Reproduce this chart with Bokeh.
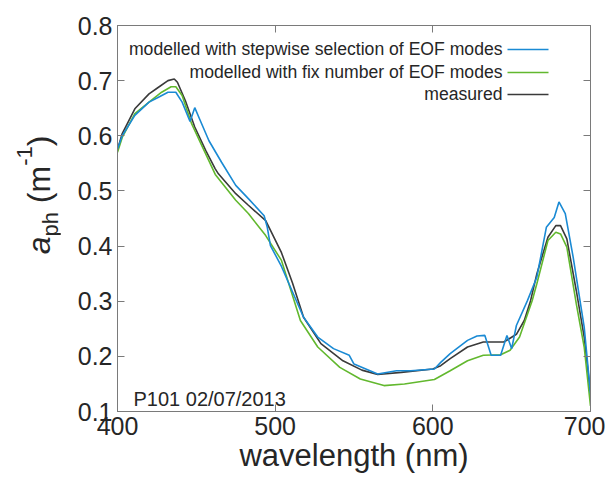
from bokeh.plotting import figure
from bokeh.models import Range1d, LinearAxis, Label, FixedTicker, Div
from bokeh.layouts import row
from bokeh.embed import file_html
from bokeh.resources import INLINE

# ---- data ----
wl_measured = [400, 403, 411, 420, 426, 432, 436, 438, 443, 449, 456, 462, 464, 475, 483, 494,
               504, 511, 518, 529, 543, 555, 565, 580, 600, 605, 611, 622, 632, 645, 653, 658,
               662, 666, 673, 678, 681, 685, 691, 696, 700]
a_measured = [0.575, 0.604, 0.649, 0.676, 0.688, 0.700, 0.703, 0.697, 0.664, 0.616, 0.573, 0.540,
              0.531, 0.495, 0.474, 0.446, 0.388, 0.333, 0.271, 0.223, 0.192, 0.175, 0.167, 0.171,
              0.177, 0.183, 0.196, 0.217, 0.226, 0.226, 0.240, 0.265, 0.301, 0.350, 0.416, 0.437,
              0.437, 0.413, 0.319, 0.235, 0.133]

wl_fix = [400, 403, 411, 420, 428, 434, 437, 441, 447, 454, 462, 475, 483, 494, 504, 516, 527,
          541, 554, 569, 582, 601, 611, 622, 632, 643, 649, 655, 663, 666, 673, 678, 681, 685,
          691, 696, 700]
a_fix = [0.570, 0.597, 0.640, 0.661, 0.679, 0.689, 0.689, 0.673, 0.622, 0.579, 0.530, 0.483,
         0.459, 0.419, 0.374, 0.265, 0.217, 0.180, 0.159, 0.147, 0.150, 0.158, 0.174, 0.192,
         0.202, 0.203, 0.211, 0.235, 0.301, 0.332, 0.410, 0.425, 0.422, 0.398, 0.295, 0.217,
         0.110]

wl_step = [400, 403, 411, 420, 426, 432, 437, 441, 446, 449, 452, 458, 466, 475, 483, 493, 495,
           497, 504, 518, 527, 537, 547, 550, 565, 577, 586, 601, 605, 611, 622, 628, 633, 637,
           643, 647, 650, 653, 660, 666, 672, 677, 680, 684, 689, 696, 700]
a_step = [0.576, 0.600, 0.637, 0.661, 0.670, 0.679, 0.679, 0.661, 0.626, 0.651, 0.631, 0.591,
          0.552, 0.510, 0.486, 0.455, 0.434, 0.401, 0.363, 0.271, 0.235, 0.214, 0.202, 0.186,
          0.168, 0.174, 0.174, 0.177, 0.189, 0.205, 0.229, 0.237, 0.238, 0.202, 0.202, 0.238,
          0.214, 0.256, 0.301, 0.344, 0.434, 0.452, 0.480, 0.459, 0.380, 0.253, 0.133]

x_ticks = [400, 500, 600, 700]
y_ticks = [0.1, 0.2, 0.3, 0.4, 0.5, 0.6, 0.7, 0.8]

series_names = ["modelled with stepwise selection of EOF modes",
                "modelled with fix number of EOF modes",
                "measured"]
annotation_text = "P101 02/07/2013"
x_label = "wavelength (nm)"

# ---- styles ----
FONT = "Liberation Sans"
C_STEP = "#1a8ad4"
C_FIX = "#62b82e"
C_MEAS = "#3a3a3a"
AXIS_C = "#7a7a7a"
TXT_C = "#262626"

x0, x1 = 400, 700
y0, y1 = 0.1, 0.8

LABEL_W = 60
FIG_H = 478

p = figure(width=605 - LABEL_W, height=FIG_H, output_backend="svg", toolbar_location=None,
           x_range=Range1d(x0, x1), y_range=Range1d(y0, y1),
           min_border_left=117 - LABEL_W, min_border_right=15, min_border_top=25,
           min_border_bottom=67)
p.background_fill_color = "white"
p.border_fill_color = "white"
p.grid.visible = False
p.outline_line_color = AXIS_C

for ax in (p.xaxis[0], p.yaxis[0]):
    ax.axis_line_color = AXIS_C
    ax.major_tick_line_color = AXIS_C
    ax.major_tick_in = 7
    ax.major_tick_out = 0
    ax.minor_tick_line_color = None
    ax.major_label_text_font = FONT
    ax.major_label_text_font_size = "25px"
    ax.major_label_text_color = TXT_C
    ax.major_label_standoff = 5
p.xaxis[0].ticker = FixedTicker(ticks=x_ticks)
p.yaxis[0].ticker = FixedTicker(ticks=y_ticks)
p.xaxis[0].major_label_overrides = {t: str(t) for t in x_ticks}
p.yaxis[0].major_label_overrides = {t: f"{t:.1f}" for t in y_ticks}
p.xaxis[0].axis_label = x_label
p.xaxis[0].axis_label_text_font = FONT
p.xaxis[0].axis_label_text_font_size = "31px"
p.xaxis[0].axis_label_text_font_style = "normal"
p.xaxis[0].axis_label_text_color = TXT_C
p.xaxis[0].axis_label_standoff = 0

# box ticks on top and right (labels not painted)
top_ax = LinearAxis(ticker=FixedTicker(ticks=x_ticks), major_label_text_color=None,
                    major_label_text_font_size="1px",
                    axis_line_color=AXIS_C, major_tick_line_color=AXIS_C, major_tick_in=7,
                    major_tick_out=0, minor_tick_line_color=None, major_label_standoff=0)
right_ax = LinearAxis(ticker=FixedTicker(ticks=y_ticks), major_label_text_color=None,
                      major_label_text_font_size="1px",
                      axis_line_color=AXIS_C, major_tick_line_color=AXIS_C, major_tick_in=7,
                      major_tick_out=0, minor_tick_line_color=None, major_label_standoff=0)
p.add_layout(top_ax, "above")
p.add_layout(right_ax, "right")

# ---- curves ----
p.line(wl_measured, a_measured, line_color=C_MEAS, line_width=1.6)
p.line(wl_fix, a_fix, line_color=C_FIX, line_width=1.6)
p.line(wl_step, a_step, line_color=C_STEP, line_width=1.6)

# helper: convert reference pixel positions to data units (frame 117..590 x 25..411)
def dx(px):
    return x0 + (px - 117) * (x1 - x0) / (590 - 117)

def dy(py):
    return y0 + (411 - py) * (y1 - y0) / (411 - 25)

# ---- legend (text right-aligned, sample line on the right) ----
leg_colors = [C_STEP, C_FIX, C_MEAS]
leg_rows = [48, 71, 93]
for name, col, r in zip(series_names, leg_colors, leg_rows):
    p.add_layout(Label(x=dx(502), y=dy(r), text=name, text_align="right",
                       text_baseline="middle", text_font=FONT, text_font_size="17.6px",
                       text_color=TXT_C))
    p.line([dx(507), dx(548)], [dy(r + 1), dy(r + 1)], line_color=col, line_width=1.6)

# ---- annotation ----
p.add_layout(Label(x=dx(133), y=dy(398), text=annotation_text, text_align="left",
                   text_baseline="alphabetic", text_font=FONT, text_font_size="20px",
                   text_color=TXT_C))

# ---- y axis label: a_ph (m^-1), rotated HTML text beside the plot ----
ylabel_html = (
    f'<div style="position:relative;width:{LABEL_W}px;height:{FIG_H}px;">'
    '<div style="position:absolute;left:38px;top:195px;'
    'transform:translate(-50%,-50%) rotate(-90deg);white-space:nowrap;'
    f"font-family:'{FONT}';font-size:32px;line-height:1;color:{TXT_C};\">"
    '<i>a</i><span style="font-size:22px;vertical-align:-8px;">ph</span>'
    '&nbsp;(m<span style="font-size:22px;vertical-align:18px;">-1</span>)'
    '</div></div>'
)
ylab_div = Div(text=ylabel_html, width=LABEL_W, height=FIG_H, margin=0)

layout = row(ylab_div, p, spacing=0)
open("out.html", "w").write(file_html(layout, INLINE))
